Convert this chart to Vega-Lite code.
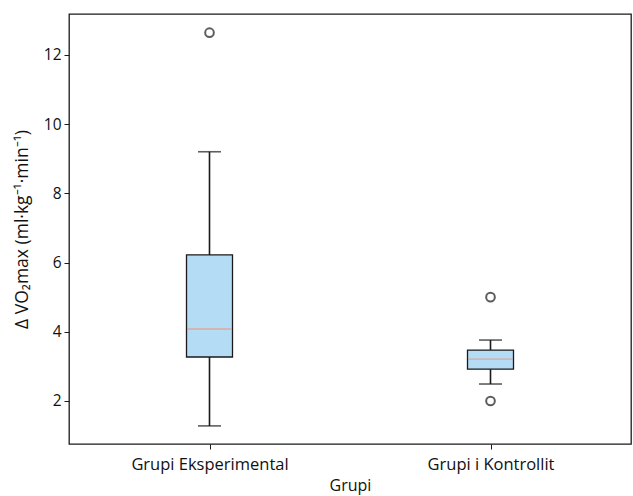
{
  "$schema": "https://vega.github.io/schema/vega-lite/v6.json",
  "width": 562,
  "height": 430,
  "autosize": {"type": "none"},
  "padding": {"left": 69, "top": 14, "right": 2, "bottom": 52},
  "background": "white",
  "config": {
    "view": {"stroke": "#1a1a1a", "strokeWidth": 1.3},
    "font": "Open Sans",
    "axis": {
      "labelFont": "Open Sans",
      "titleFont": "Open Sans",
      "labelColor": "#111111",
      "titleColor": "#111111",
      "titleFontWeight": "normal",
      "grid": false,
      "domain": false,
      "tickColor": "#1a1a1a",
      "tickSize": 5
    }
  },
  "datasets": {
    "stats": [
      {"grupi": "Grupi Eksperimental", "lower": 1.28, "q1": 3.27, "median": 4.08, "q3": 6.22, "upper": 9.2},
      {"grupi": "Grupi i Kontrollit", "lower": 2.49, "q1": 2.92, "median": 3.21, "q3": 3.47, "upper": 3.76}
    ],
    "outliers": [
      {"grupi": "Grupi Eksperimental", "value": 12.64},
      {"grupi": "Grupi i Kontrollit", "value": 5.0},
      {"grupi": "Grupi i Kontrollit", "value": 2.0}
    ]
  },
  "encoding": {
    "x": {
      "field": "grupi",
      "type": "nominal",
      "scale": {"type": "point", "padding": 0.5, "domain": ["Grupi Eksperimental", "Grupi i Kontrollit"]},
      "axis": {"title": "Grupi", "labelAngle": 0, "labelFontSize": 16.5, "titleFontSize": 16, "labelPadding": 7, "titlePadding": 5}
    }
  },
  "layer": [
    {
      "data": {"name": "stats"},
      "mark": {"type": "rule", "color": "#1a1a1a", "strokeWidth": 1.6},
      "encoding": {
        "y": {
          "field": "lower",
          "type": "quantitative",
          "scale": {"domain": [0.757, 13.18], "nice": false, "zero": false},
          "axis": {"title": "Δ VO₂max (ml·kg⁻¹·min⁻¹)", "values": [2, 4, 6, 8, 10, 12], "labelFontSize": 15.5, "titleFontSize": 17.5, "labelPadding": 3, "titlePadding": 12}
        },
        "y2": {"field": "upper"}
      }
    },
    {
      "data": {"name": "stats"},
      "mark": {"type": "bar", "size": 46, "fill": "#b5dcf5", "stroke": "#1a1a1a", "strokeWidth": 1.3},
      "encoding": {
        "y": {"field": "q1", "type": "quantitative"},
        "y2": {"field": "q3"}
      }
    },
    {
      "data": {"name": "stats"},
      "mark": {"type": "tick", "size": 45, "thickness": 1.3, "color": "#ec9478"},
      "encoding": {"y": {"field": "median", "type": "quantitative"}}
    },
    {
      "data": {"name": "stats"},
      "mark": {"type": "tick", "size": 23, "thickness": 1.6, "color": "#1a1a1a"},
      "encoding": {"y": {"field": "lower", "type": "quantitative"}}
    },
    {
      "data": {"name": "stats"},
      "mark": {"type": "tick", "size": 23, "thickness": 1.6, "color": "#1a1a1a"},
      "encoding": {"y": {"field": "upper", "type": "quantitative"}}
    },
    {
      "data": {"name": "outliers"},
      "mark": {"type": "point", "shape": "circle", "filled": false, "size": 75, "stroke": "#1a1a1a", "strokeWidth": 2},
      "encoding": {"y": {"field": "value", "type": "quantitative"}}
    }
  ]
}
